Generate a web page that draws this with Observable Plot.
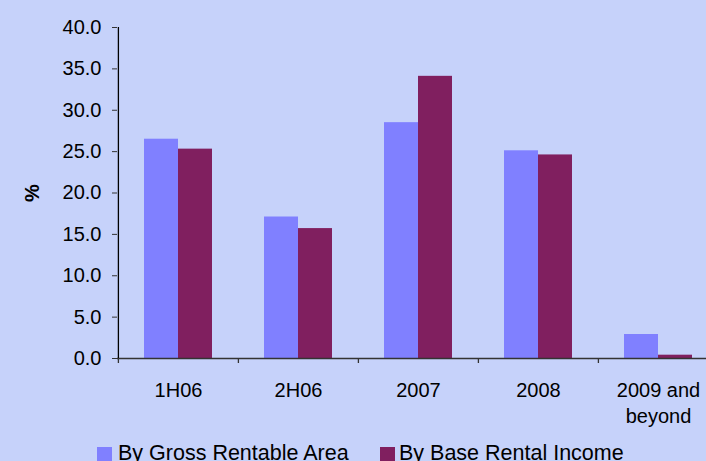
<!DOCTYPE html>
<html>
<head>
<meta charset="utf-8">
<script src="https://cdn.jsdelivr.net/npm/d3@7"></script>
<script src="https://cdn.jsdelivr.net/npm/@observablehq/plot@0.6"></script>
<style>
  html, body { margin: 0; padding: 0; background: #C6D2FA; overflow: hidden; width: 706px; height: 461px; }
  #chart { position: relative; width: 706px; height: 461px; font-family: "Liberation Sans", Arial, sans-serif; }
  #legend { position: absolute; left: 0; top: 441px; width: 706px; height: 30px; font-size: 21.5px; color: #000; line-height: 24px; }
  .item { position: absolute; top: 0; white-space: nowrap; }
  .sw { position: absolute; top: 6px; width: 15px; height: 15px; }
</style>
</head>
<body>
<div id="chart"><div id="legend"></div></div>
<script>
const categories = ["1H06", "2H06", "2007", "2008", "2009 and\nbeyond"];
const seriesNames = ["By Gross Rentable Area", "By Base Rental Income"];
const grossRentableArea = [26.5, 17.1, 28.5, 25.1, 2.9];
const baseRentalIncome = [25.3, 15.7, 34.1, 24.6, 0.4];
const colors = ["#8080FF", "#801F5F"];
const yTicks = [0, 5, 10, 15, 20, 25, 30, 35, 40];

const gra = categories.map((c, i) => ({category: c, series: seriesNames[0], value: grossRentableArea[i]}));
const bri = categories.map((c, i) => ({category: c, series: seriesNames[1], value: baseRentalIncome[i]}));

const PAD = 0.435;
const HALF_STEP = 60.1;
const HALF_BAR = 34;

const plot = Plot.plot({
  width: 706,
  height: 440,
  marginLeft: 117,
  marginRight: -12,
  marginTop: 27,
  marginBottom: 82,
  style: {background: "transparent", fontFamily: "'Liberation Sans', Arial, sans-serif", fontSize: "20px", color: "#000", overflow: "visible"},
  x: {domain: categories, paddingInner: PAD, paddingOuter: PAD / 2, align: 0.5},
  y: {domain: [0, 40]},
  color: {domain: seriesNames, range: colors},
  marks: [
    Plot.barY(gra, {x: "category", y: "value", fill: "series", insetRight: HALF_BAR}),
    Plot.barY(bri, {x: "category", y: "value", fill: "series", insetLeft: HALF_BAR}),
    Plot.axisY({
      ticks: yTicks,
      tickFormat: d => d.toFixed(1),
      tickSize: 5,
      tickPadding: 11,
      stroke: "#333",
      fontSize: 20,
      label: null
    }),
    Plot.axisX({
      tickSize: 0,
      tickPadding: 20,
      fontSize: 20,
      lineHeight: 1.3,
      label: null
    }),
    Plot.ruleY([0], {stroke: "#333", strokeWidth: 1.5}),
    // category boundary ticks below the axis
    Plot.ruleX(categories, {x: d => d, dx: -HALF_STEP, y1: 0, y2: 0, insetBottom: -5, stroke: "#333", strokeWidth: 1.3}),
    // vertical axis line
    Plot.ruleX([categories[0]], {x: d => d, dx: -HALF_STEP, y1: 0, y2: 40, stroke: "#000", strokeWidth: 1.3}),
    Plot.text(["%"], {
      frameAnchor: "left",
      dx: -85,
      dy: 9,
      rotate: -90,
      fontWeight: "bold",
      fontSize: 20,
      text: d => d
    })
  ]
});
document.getElementById("chart").insertBefore(plot, document.getElementById("legend"));

// legend built from the plot's color scale
const cs = plot.scale("color");
const legendPos = [{sw: 97, tx: 118}, {sw: 380, tx: 399}];
const legend = document.getElementById("legend");
cs.domain.forEach((name, i) => {
  const sw = document.createElement("div");
  sw.className = "sw";
  sw.style.left = legendPos[i].sw + "px";
  sw.style.background = cs.range[i];
  legend.appendChild(sw);
  const t = document.createElement("div");
  t.className = "item";
  t.style.left = legendPos[i].tx + "px";
  t.textContent = name;
  legend.appendChild(t);
});
</script>
</body>
</html>
